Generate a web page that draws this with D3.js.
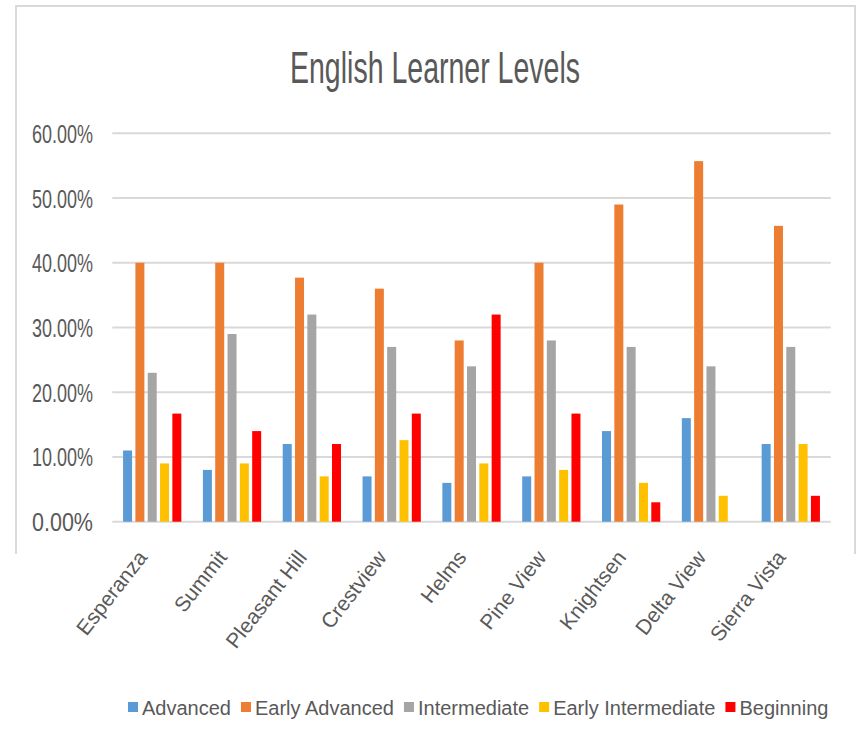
<!DOCTYPE html>
<html>
<head>
<meta charset="utf-8">
<script src="https://cdn.jsdelivr.net/npm/d3@7"></script>
<style>
  html, body { margin: 0; padding: 0; background: #fff; }
  svg { display: block; }
</style>
</head>
<body>
<svg id="chart" width="858" height="754"></svg>
<script>
// ---- Data ----
const title = "English Learner Levels";
const categories = ["Esperanza", "Summit", "Pleasant Hill", "Crestview", "Helms",
                    "Pine View", "Knightsen", "Delta View", "Sierra Vista"];
const seriesNames = ["Advanced", "Early Advanced", "Intermediate", "Early Intermediate", "Beginning"];
const seriesColors = ["#5b9bd5", "#ed7d31", "#a5a5a5", "#ffc000", "#ff0000"];
const advanced          = [0.11, 0.08, 0.12, 0.07, 0.06, 0.07, 0.14, 0.16, 0.12];
const earlyAdvanced     = [0.40, 0.40, 0.377, 0.36, 0.28, 0.40, 0.49, 0.557, 0.457];
const intermediate      = [0.23, 0.29, 0.32, 0.27, 0.24, 0.28, 0.27, 0.24, 0.27];
const earlyIntermediate = [0.09, 0.09, 0.07, 0.126, 0.09, 0.08, 0.06, 0.04, 0.12];
const beginning         = [0.167, 0.14, 0.12, 0.167, 0.32, 0.167, 0.03, 0.0, 0.04];
const yTicks = [0, 0.1, 0.2, 0.3, 0.4, 0.5, 0.6];

const seriesValues = [advanced, earlyAdvanced, intermediate, earlyIntermediate, beginning];

// ---- Layout ----
const svg = d3.select("#chart");
const fontFam = "'Liberation Sans Narrow', 'Liberation Sans', Arial, sans-serif";
const textColor = "#595959";

const plot = { left: 112.3, right: 830.7, top: 133.3, bottom: 521.7 };

const y = d3.scaleLinear().domain([0, 0.6]).range([plot.bottom, plot.top]);
const x0 = d3.scaleBand().domain(categories).range([plot.left, plot.right]).padding(0);
const gw = x0.bandwidth();
const x1 = d3.scaleBand().domain(seriesNames)
  .range([gw * 0.135, gw * 0.865]).paddingInner(0.27).paddingOuter(0);

// chart border (top, left, right)
svg.append("path")
  .attr("d", "M16,554 L16,6 L855,6 L855,554")
  .attr("fill", "none").attr("stroke", "#d9d9d9").attr("stroke-width", 2);

// title
svg.append("text")
  .attr("x", 435).attr("y", 83)
  .attr("text-anchor", "middle")
  .attr("font-family", fontFam).attr("font-size", 44)
  .attr("fill", textColor)
  .attr("textLength", 290).attr("lengthAdjust", "spacingAndGlyphs")
  .text(title);

// gridlines
svg.append("g").selectAll("line").data(yTicks).join("line")
  .attr("x1", plot.left).attr("x2", plot.right)
  .attr("y1", d => y(d)).attr("y2", d => y(d))
  .attr("stroke", "#d9d9d9").attr("stroke-width", 2);

// y-axis labels
const fmt = d3.format(".2%");
svg.append("g").selectAll("text").data(yTicks).join("text")
  .attr("x", 93).attr("y", d => y(d) + 9.5)
  .attr("text-anchor", "end")
  .attr("font-family", fontFam).attr("font-size", 26)
  .attr("fill", textColor)
  .attr("textLength", 61).attr("lengthAdjust", "spacingAndGlyphs")
  .text(d => fmt(d));

// bars
const groups = svg.append("g").selectAll("g").data(categories).join("g")
  .attr("transform", c => `translate(${x0(c)},0)`);
groups.selectAll("rect")
  .data((c, i) => seriesNames.map((s, j) => ({ s, v: seriesValues[j][i], color: seriesColors[j] })))
  .join("rect")
  .attr("x", d => x1(d.s))
  .attr("width", x1.bandwidth())
  .attr("y", d => y(d.v))
  .attr("height", d => y(0) - y(d.v))
  .attr("fill", d => d.color);

// x-axis labels (rotated)
svg.append("g").selectAll("text").data(categories).join("text")
  .attr("transform", c => `translate(${x0(c) + gw / 2 - 4},${plot.bottom + 36}) rotate(-52)`)
  .attr("text-anchor", "end")
  .attr("font-family", fontFam).attr("font-size", 21)
  .attr("fill", textColor)
  .text(c => c);

// legend: lay out sequentially from natural text widths, spread over the reference span
const legendG = svg.append("g");
const items = seriesNames.map((name, i) => {
  const g = legendG.append("g");
  g.append("rect").attr("x", 0).attr("y", -6).attr("width", 10).attr("height", 10)
    .attr("fill", seriesColors[i]);
  const t = g.append("text").attr("x", 14).attr("y", 7)
    .attr("font-family", fontFam).attr("font-size", 20)
    .attr("fill", textColor).text(name);
  return { g, w: 14 + t.node().getComputedTextLength() };
});
const legStart = 128, legEnd = 790;
const totalW = d3.sum(items, d => d.w);
const gap = Math.max(10, (legEnd - legStart - totalW) / (items.length - 1));
let cx = legStart;
items.forEach(it => {
  it.g.attr("transform", `translate(${cx},708)`);
  cx += it.w + gap;
});
</script>
</body>
</html>
